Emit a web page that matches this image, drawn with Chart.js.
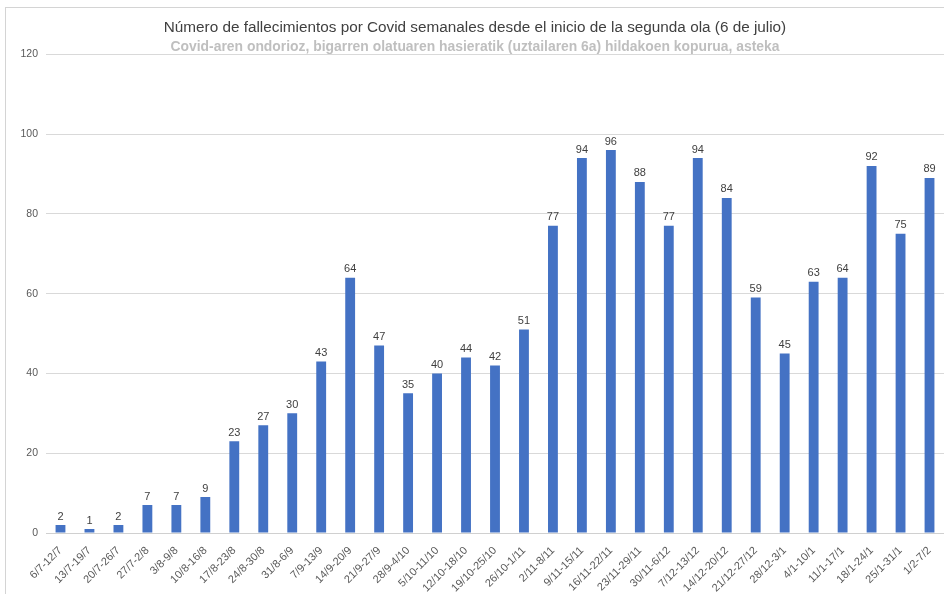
<!DOCTYPE html>
<html lang="es">
<head>
    <meta charset="UTF-8">
    <title>Fallecimientos por Covid semanales</title>
    <script src="https://cdn.jsdelivr.net/npm/chart.js@4.4.0/dist/chart.umd.min.js"></script>
    <style>
        * { margin: 0; padding: 0; box-sizing: border-box; }
        body { background: #fff; width: 944px; height: 594px; overflow: hidden; position: relative; }
        .frame {
            position: absolute; left: 5px; top: 7px; width: 945px; height: 600px;
            border-left: 1px solid #d4d4d4; border-top: 1px solid #d4d4d4;
        }
        .chart-box { position: absolute; left: 0; top: 0; width: 944px; height: 594px; }
    </style>
</head>
<body>
    <div class="frame"></div>
    <div class="chart-box"><canvas id="deathsChart"></canvas></div>

    <script>
        const weeks = ['6/7-12/7', '13/7-19/7', '20/7-26/7', '27/7-2/8', '3/8-9/8', '10/8-16/8',
            '17/8-23/8', '24/8-30/8', '31/8-6/9', '7/9-13/9', '14/9-20/9', '21/9-27/9', '28/9-4/10',
            '5/10-11/10', '12/10-18/10', '19/10-25/10', '26/10-1/11', '2/11-8/11', '9/11-15/11',
            '16/11-22/11', '23/11-29/11', '30/11-6/12', '7/12-13/12', '14/12-20/12', '21/12-27/12',
            '28/12-3/1', '4/1-10/1', '11/1-17/1', '18/1-24/1', '25/1-31/1', '1/2-7/2'];
        const deaths = [2, 1, 2, 7, 7, 9, 23, 27, 30, 43, 64, 47, 35, 40, 44, 42, 51, 77, 94, 96,
            88, 77, 94, 84, 59, 45, 63, 64, 92, 75, 89];
        const yTicks = [0, 20, 40, 60, 80, 100, 120];

        const titleText = 'Número de fallecimientos por Covid semanales desde el inicio de la segunda ola (6 de julio)';
        const subtitleText = 'Covid-aren ondorioz, bigarren olatuaren hasieratik (uztailaren 6a) hildakoen kopurua, asteka';

        // value above each bar
        const barValues = {
            id: 'barValues',
            afterDatasetsDraw(chart) {
                const ctx = chart.ctx;
                const meta = chart.getDatasetMeta(0);
                ctx.save();
                ctx.font = '11px "Liberation Sans", Arial, sans-serif';
                ctx.fillStyle = '#404040';
                ctx.textAlign = 'center';
                ctx.textBaseline = 'bottom';
                meta.data.forEach((bar, i) => {
                    ctx.fillText(deaths[i], bar.x, bar.y - 3);
                });
                ctx.restore();
            }
        };

        new Chart(document.getElementById('deathsChart'), {
            type: 'bar',
            data: {
                labels: weeks,
                datasets: [{
                    data: deaths,
                    backgroundColor: '#4472c4',
                    barPercentage: 0.68,
                    categoryPercentage: 0.5
                }]
            },
            options: {
                responsive: true,
                maintainAspectRatio: false,
                animation: false,
                layout: { padding: { left: 6, right: 0, top: 0, bottom: 0 } },
                plugins: {
                    legend: { display: false },
                    tooltip: { enabled: false },
                    title: {
                        display: true,
                        text: titleText,
                        color: '#404040',
                        font: { family: '"Liberation Sans", Arial, sans-serif', size: 15.3, weight: 'normal', lineHeight: 1.2 },
                        padding: { top: 19, bottom: 0 }
                    },
                    subtitle: {
                        display: true,
                        text: subtitleText,
                        color: '#bfbfbf',
                        font: { family: '"Liberation Sans", Arial, sans-serif', size: 13.9, weight: 'bold', lineHeight: 1.0 },
                        padding: { top: 3, bottom: 0 }
                    }
                },
                scales: {
                    x: {
                        grid: { display: false },
                        border: { color: '#d0d0d0' },
                        ticks: {
                            color: '#595959',
                            font: { family: '"Liberation Sans", Arial, sans-serif', size: 11 },
                            minRotation: 45,
                            maxRotation: 45,
                            autoSkip: false,
                            padding: 3
                        },
                        afterFit(scale) { scale.height = 61; }
                    },
                    y: {
                        min: 0,
                        max: 120,
                        afterBuildTicks(scale) { scale.ticks = yTicks.map(v => ({ value: v })); },
                        grid: { color: '#d9d9d9', drawTicks: false },
                        border: { display: false },
                        ticks: {
                            color: '#595959',
                            font: { family: '"Liberation Sans", Arial, sans-serif', size: 10.5 },
                            padding: 8
                        },
                        afterFit(scale) { scale.width = 40; }
                    }
                }
            },
            plugins: [barValues]
        });
    </script>
</body>
</html>
